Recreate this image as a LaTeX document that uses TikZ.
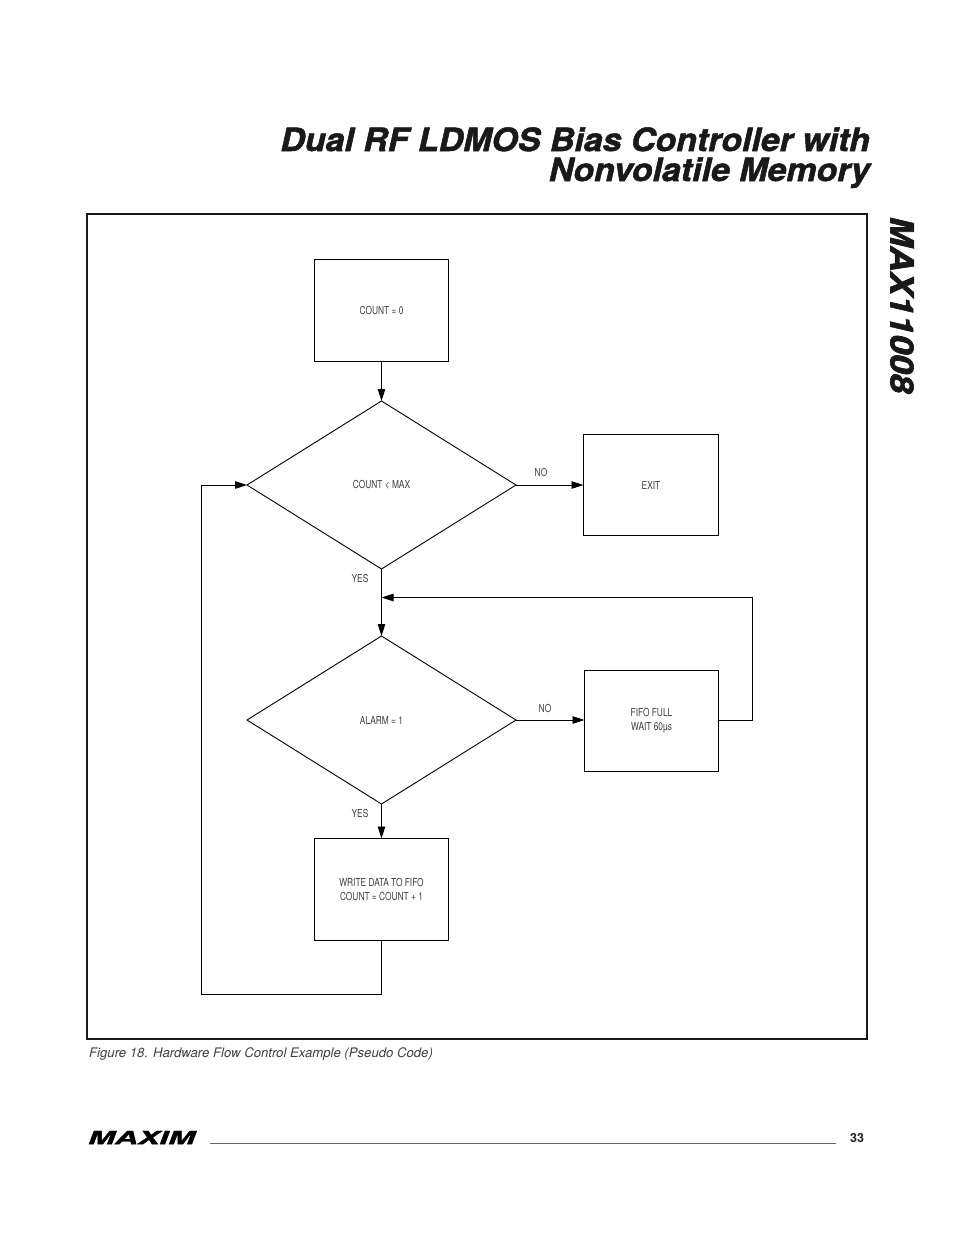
\documentclass[tikz,border=0pt]{standalone}
\usepackage{fontspec}
\setmainfont{TeX Gyre Heros}
\newfontfamily\narrowfont[FakeStretch=0.76]{TeX Gyre Heros}
\newfontfamily\heavyfont[FakeStretch=1.06,BoldItalicFeatures={FakeBold=1.6}]{TeX Gyre Heros}
\newfontfamily\sidefont[FakeStretch=1.1,BoldItalicFeatures={FakeBold=2}]{TeX Gyre Heros}
\newfontfamily\logofont[FakeStretch=1.78,BoldItalicFeatures={FakeBold=2}]{TeX Gyre Heros}
\usetikzlibrary{shapes.geometric,arrows.meta}
\tikzset{
    flowbox/.style={draw=black,line width=0.9pt,inner sep=0pt,outer sep=0pt,minimum width=134pt,minimum height=102pt,align=center,font=\narrowfont\fontsize{11}{14}\selectfont,text=black!75},
    flowtest/.style={diamond,draw=black,line width=0.9pt,inner sep=0pt,outer sep=0pt,aspect=1.6,minimum width=269pt,minimum height=168pt,font=\narrowfont\fontsize{11}{14}\selectfont,text=black!75},
    flowtag/.style={font=\narrowfont\fontsize{11}{14}\selectfont,text=black!75},
    flowline/.style={line width=0.9pt,-{Stealth[inset=0pt,length=12pt,width=7.5pt]}},
    headline/.style={anchor=base east,inner sep=0pt,font=\heavyfont\bfseries\itshape\fontsize{32}{32}\selectfont,text=black!90}
}
\begin{document}
\begin{tikzpicture}[x=1pt,y=-1pt]
    \useasboundingbox[fill=white] (0,0) rectangle (954,1235);

    % Page heading
    \node[headline] (title1) at (870,151) {Dual RF LDMOS Bias Controller with};
    \node[headline] (title2) at (870,181) {Nonvolatile Memory};
    \node[rotate=-90,font=\sidefont\bfseries\itshape\fontsize{32}{32}\selectfont,text=black!90] (part) at (902,305) {MAX11008};

    % The frame
    \node[draw=black!90,line width=1.8pt,minimum width=780pt,minimum height=825pt,inner sep=0pt] (frame) at (477,626.5) {};

    % The boxes and tests
    \node[flowbox] (start) at (381.5,310.75) {COUNT = 0};
    \node[flowtest] (testcount) at (381.5,485) {COUNT < MAX};
    \node[flowbox,minimum width=135pt,minimum height=101pt] (exit) at (651,485) {EXIT};
    \node[flowtest] (testalarm) at (381.5,720) {ALARM = 1};
    \node[flowbox,minimum height=101pt] (wait) at (651.5,721) {FIFO FULL\\WAIT 60µs};
    \node[flowbox] (write) at (381.5,889.5) {WRITE DATA TO FIFO\\COUNT = COUNT + 1};

    % Free corners of the return paths
    \coordinate (join) at (381.5,597.5);
    \coordinate (waitright) at (752,720);
    \coordinate (waittop) at (752,597.5);
    \coordinate (writedown) at (381.5,994);
    \coordinate (backleft) at (201.5,994);
    \coordinate (backtop) at (201.5,485);

    % The lines!
    \draw[flowline] (start) -- (testcount);
    \draw[flowline] (testcount) -- (exit);
    \draw[flowline] (testcount) -- (testalarm);
    \draw[flowline] (testalarm) -- (wait.west |- testalarm);
    \draw[flowline] (testalarm) -- (write);
    \draw[flowline] (wait.east |- waitright) -- (waitright) -- (waittop) -- (join);
    \draw[flowline] (write) -- (writedown) -- (backleft) -- (backtop) -- (testcount.west);

    % Branch labels
    \node[flowtag] (no1) at (541,472) {NO};
    \node[flowtag] (yes1) at (360,578) {YES};
    \node[flowtag] (no2) at (545,708) {NO};
    \node[flowtag] (yes2) at (360,813) {YES};

    % Caption and page foot
    \node[anchor=west,inner sep=0pt,font=\itshape\fontsize{13.15}{14}\selectfont,text=black!75] (caption) at (89,1054) {Figure 18. Hardware Flow Control Example (Pseudo Code)};
    \node[anchor=west,inner sep=0pt,font=\logofont\bfseries\itshape\fontsize{18}{18}\selectfont,text=black] (logo) at (88,1137.5) {MAXIM};
    \node[inner sep=0pt,font=\bfseries\fontsize{12.5}{13}\selectfont,text=black!85] (pagenum) at (857,1138.5) {33};
    \coordinate (rulestart) at (210,1143.5);
    \coordinate (ruleend) at (836,1143.5);
    \draw[black!60,line width=0.8pt] (rulestart) -- (ruleend);
\end{tikzpicture}
\end{document}
